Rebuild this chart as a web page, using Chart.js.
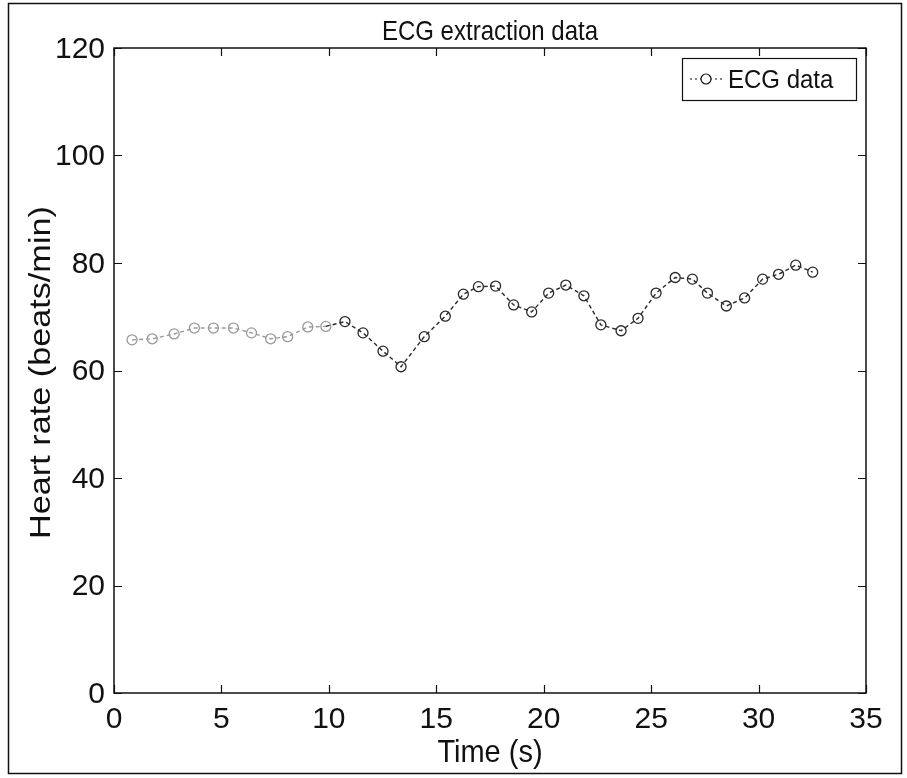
<!DOCTYPE html>
<html>
<head>
<meta charset="utf-8">
<title>ECG extraction data</title>
<script src="https://cdn.jsdelivr.net/npm/chart.js@4/dist/chart.umd.min.js"></script>
<style>
    html, body { margin: 0; padding: 0; background: #ffffff; }
    #wrap { width: 907px; height: 778px; position: relative; }
</style>
</head>
<body>
<div id="wrap"><canvas id="ecgChart" width="907" height="778"></canvas></div>
<script>
// Beat times (s) and heart rate
const beatTimes = [0.84, 1.78, 2.80, 3.74, 4.63, 5.56, 6.40, 7.29, 8.08, 9.02, 9.86, 10.75, 11.59, 12.52,
    13.36, 14.44, 15.42, 16.26, 16.96, 17.76, 18.60, 19.44, 20.23, 21.03, 21.87, 22.66, 23.60, 24.39,
    25.23, 26.12, 26.92, 27.62, 28.50, 29.35, 30.19, 30.93, 31.73, 32.52];
const heartRates = [65.7, 65.9, 66.8, 67.9, 67.9, 67.9, 67.0, 65.9, 66.3, 68.1, 68.2, 69.1, 67.0, 63.6,
    60.7, 66.3, 70.1, 74.2, 75.6, 75.7, 72.2, 70.9, 74.4, 75.9, 73.9, 68.5, 67.4, 69.7,
    74.4, 77.3, 77.0, 74.4, 72.0, 73.5, 77.0, 77.9, 79.6, 78.3];
const xTickValues = [0, 5, 10, 15, 20, 25, 30, 35];
const yTickValues = [0, 20, 40, 60, 80, 100, 120];
const seriesName = 'ECG data';
const chartTitle = 'ECG extraction data';
const xTitle = 'Time (s)';
const yTitle = 'Heart rate (beats/min)';

const FONT = "'Liberation Sans', Arial, Helvetica, sans-serif";
const INK = '#111111';

// draw text centred on its cap height; stretch makes it taller like the scan
function drawText(ctx, text, x, y, size, align, rotated, stretch) {
    ctx.save();
    ctx.translate(x, y);
    if (rotated) {
        ctx.rotate(-Math.PI / 2);
        ctx.scale(stretch, 1);
    } else {
        ctx.scale(1, stretch);
    }
    ctx.font = size + 'px ' + FONT;
    ctx.fillStyle = INK;
    ctx.textAlign = align;
    ctx.textBaseline = 'alphabetic';
    ctx.fillText(text, 0, 0.358 * size);
    ctx.restore();
}

// Matlab-like frame: box, inward ticks on all sides, labels, legend box, figure border
const matlabFrame = {
    id: 'matlabFrame',
    afterDraw(chart) {
        const ctx = chart.ctx;
        const area = chart.chartArea;
        const xs = chart.scales.x;
        const ys = chart.scales.y;
        const tickLen = 8;
        const midX = (area.left + area.right) / 2;

        ctx.save();
        ctx.strokeStyle = INK;
        ctx.lineWidth = 1.5;
        ctx.strokeRect(area.left, area.top, area.right - area.left, area.bottom - area.top);

        ctx.lineWidth = 1.2;
        ctx.beginPath();
        xTickValues.forEach(function(v) {
            const px = Math.round(xs.getPixelForValue(v)) + 0.5;
            ctx.moveTo(px, area.bottom); ctx.lineTo(px, area.bottom - tickLen);
            ctx.moveTo(px, area.top); ctx.lineTo(px, area.top + tickLen);
        });
        yTickValues.forEach(function(v) {
            const py = Math.round(ys.getPixelForValue(v)) + 0.5;
            ctx.moveTo(area.left, py); ctx.lineTo(area.left + tickLen, py);
            ctx.moveTo(area.right, py); ctx.lineTo(area.right - tickLen, py);
        });
        ctx.stroke();

        // tick labels
        xTickValues.forEach(function(v) {
            drawText(ctx, String(v), xs.getPixelForValue(v), area.bottom + 24, 30, 'center', false, 1);
        });
        yTickValues.forEach(function(v) {
            drawText(ctx, String(v), area.left - 9, ys.getPixelForValue(v) - 1, 30, 'right', false, 1);
        });

        // titles
        drawText(ctx, chartTitle, midX, 30, 24, 'center', false, 1.18);
        drawText(ctx, xTitle, midX, 751, 29, 'center', false, 1.05);
        drawText(ctx, yTitle, 40, (area.top + area.bottom) / 2 + 2, 29, 'center', true, 1.18);

        // legend box in the top right corner
        const boxW = 174, boxH = 42;
        const bx = area.right - 10 - boxW;
        const by = area.top + 10;
        ctx.fillStyle = '#ffffff';
        ctx.fillRect(bx, by, boxW, boxH);
        ctx.lineWidth = 1.2;
        ctx.strokeRect(bx + 0.5, by + 0.5, boxW, boxH);

        const cy = by + boxH / 2;
        ctx.setLineDash([2, 3]);
        ctx.beginPath();
        ctx.moveTo(bx + 8, cy);
        ctx.lineTo(bx + 40, cy);
        ctx.stroke();
        ctx.setLineDash([]);
        ctx.beginPath();
        ctx.arc(bx + 24, cy, 5, 0, Math.PI * 2);
        ctx.fillStyle = '#ffffff';
        ctx.fill();
        ctx.stroke();

        drawText(ctx, seriesName, bx + 46, cy, 24, 'left', false, 1.1);

        // outer figure border from the scan
        ctx.lineWidth = 1.5;
        ctx.strokeRect(8.5, 3.5, 893, 770);
        ctx.restore();
    }
};

const points = beatTimes.map(function(t, i) {
    return { x: t, y: heartRates[i] };
});

// the early part of the trace is faded on the scan
function fadedColor(x) {
    return x < 10.5 ? '#9a9a9a' : '#2a2a2a';
}

const ctxEcg = document.getElementById('ecgChart').getContext('2d');
const ecgChart = new Chart(ctxEcg, {
    type: 'line',
    data: {
        datasets: [{
            label: seriesName,
            data: points,
            borderColor: '#2a2a2a',
            borderWidth: 1.4,
            borderDash: [4, 3],
            segment: {
                borderColor: ctx => fadedColor(ctx.p1.parsed.x)
            },
            pointStyle: 'circle',
            pointRadius: 5,
            pointBorderWidth: 1.3,
            pointBorderColor: ctx => fadedColor(ctx.parsed ? ctx.parsed.x : 20),
            pointBackgroundColor: 'rgba(255,255,255,0)',
            tension: 0,
            fill: false
        }]
    },
    options: {
        responsive: false,
        animation: false,
        layout: {
            padding: { left: 0, right: 41, top: 48, bottom: 0 }
        },
        scales: {
            x: {
                type: 'linear',
                min: 0,
                max: 35,
                afterFit: function(scale) {
                    scale.height = 85;
                },
                grid: { display: false, drawTicks: false },
                border: { display: false },
                ticks: { display: false }
            },
            y: {
                type: 'linear',
                min: 0,
                max: 120,
                afterFit: function(scale) {
                    scale.width = 114;
                },
                grid: { display: false, drawTicks: false },
                border: { display: false },
                ticks: { display: false }
            }
        },
        plugins: {
            legend: { display: false },
            tooltip: { enabled: false },
            title: { display: false }
        }
    },
    plugins: [matlabFrame]
});
</script>
</body>
</html>
